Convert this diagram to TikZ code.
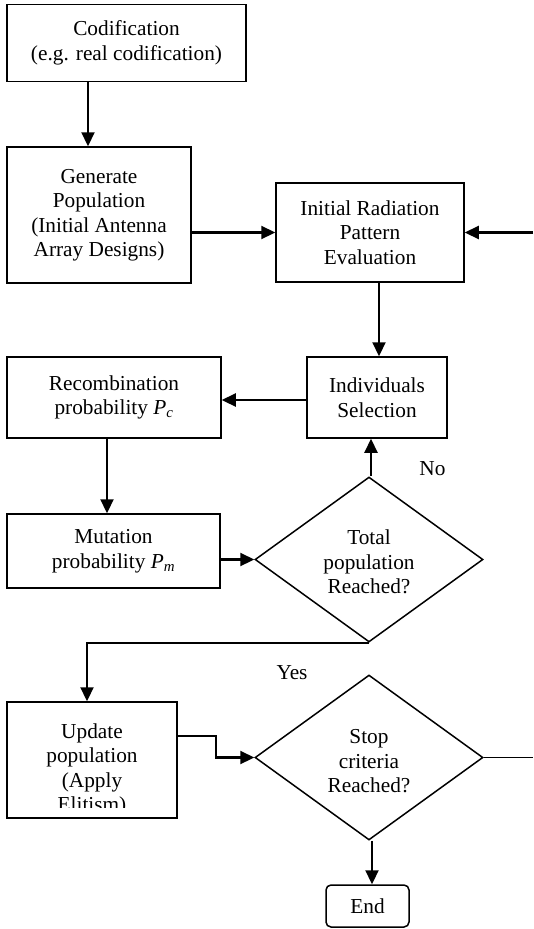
\documentclass[tikz,border=0pt]{standalone}
\usepackage{fontspec}
\setmainfont{Liberation Serif}
\usetikzlibrary{positioning,shapes.geometric,arrows.meta}

\begin{document}
\begin{tikzpicture}
	[
	x = 1pt, y = -1pt,
	font = \fontsize{21.3}{24.5}\selectfont,
	block/.style    = {draw, line width=1.5pt, align=center, inner sep=0pt},
	decision/.style = {diamond, draw, line width=1.5pt, align=center, inner sep=0pt,
		minimum width=228pt, minimum height=165pt},
	arr/.style      = {line width=2.2pt, -{Triangle[length=14pt,width=13pt]}}
	]
	\useasboundingbox (0,0) rectangle (533,929);
	\node[block, minimum width=239pt, minimum height=77pt] (cod) at (126.5,43)
	{Codification\\(e.g. real codification)};
	\node[block, minimum width=184pt, minimum height=136pt] (gen) at (99,215)
	{Generate\\Population\\(Initial Antenna\\Array Designs)};
	\node[block, minimum width=188pt, minimum height=99pt] (irp) at (370,232.5)
	{Initial Radiation\\Pattern\\Evaluation};
	\node[block, minimum width=140pt, minimum height=81pt] (ind) at (377,397.5)
	{Individuals\\Selection};
	\node[block, minimum width=214pt, minimum height=81pt] (rec) at (114,397.5)
	{Recombination\\probability \textit{P}\textsubscript{\textit{c}}};
	\node[block, minimum width=213pt, minimum height=74pt] (mut) at (113.5,551)
	{Mutation\\probability \textit{P}\textsubscript{\textit{m}}};
	\node[decision] (tot) at (369,559.5) {};
	\node[align=center] at ([yshift=-2.5pt]tot.center) {Total\\population\\Reached?};
	\node[draw, line width=1.5pt, minimum width=170pt, minimum height=116pt] (upd) at (92,760) {};
	\begin{scope}
		\clip (upd.north west) rectangle ([yshift=11pt]upd.south east);
		\node[align=center] at ([yshift=-10pt]upd.center) {Update\\population\\(Apply\\Elitism)};
	\end{scope}
	\node[decision] (stop) at (369,757.5) {};
	\node[align=center] at ([yshift=-4pt]stop.center) {Stop\\criteria\\Reached?};
	\node[block, rounded corners=5pt, minimum width=83pt, minimum height=42pt] (end) at (367.5,906) {End};
	\node (no) at (432.5,469) {No};
	\node (yes) at (292,673) {Yes};
	\coordinate (back) at (533,232.5);
	\coordinate (out) at (533,757.5);

	\draw[arr] ([xshift=-11pt]gen.north |- cod.south) -- ([xshift=-11pt]gen.north);
	\draw[arr] (gen.east |- irp.west) -- (irp.west);
	\draw[arr] (back) -- (irp.east);
	\draw[arr] ([xshift=2pt]ind.north |- irp.south) -- ([xshift=2pt]ind.north);
	\draw[arr] ([yshift=-2.5pt]ind.west) -- ([yshift=-2.5pt]rec.east);
	\draw[arr] ([xshift=-7pt]rec.south) -- ([xshift=-7pt]rec.south |- mut.north);
	\draw[arr] (mut.east |- tot.west) -- (tot.west);
	\draw[arr] ([xshift=2pt]tot.north) -- ([xshift=2pt]tot.north |- ind.south);
	\draw[arr] (tot.south) -| ([xshift=-5pt]upd.north);
	\draw[arr] ([yshift=24pt]upd.east) -- ++(38,0) |- (stop.west);
	\draw[line width=1.5pt] (stop.east) -- (out);
	\draw[arr] ([xshift=3pt]stop.south) -- ([xshift=3pt]stop.south |- end.north);
\end{tikzpicture}
\end{document}
